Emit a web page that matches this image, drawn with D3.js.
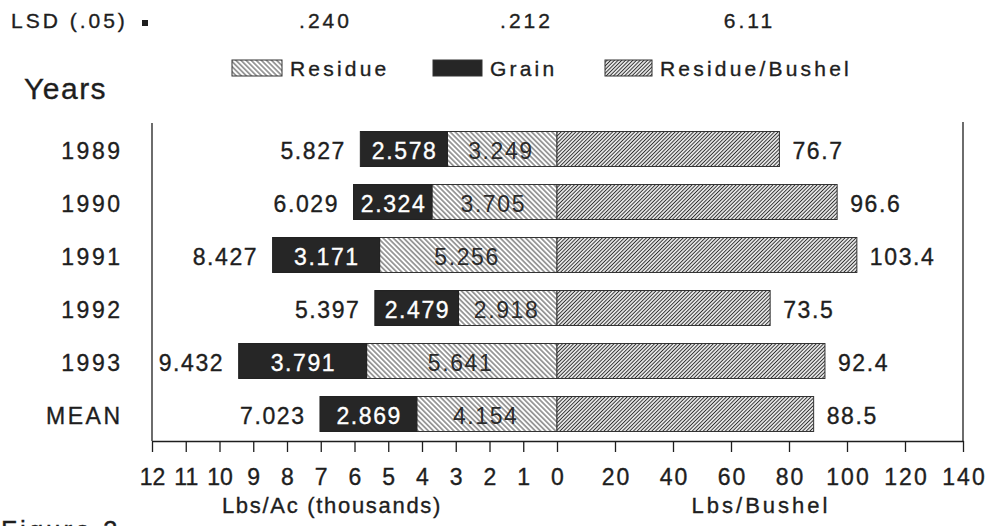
<!DOCTYPE html>
<html><head><meta charset="utf-8">
<script src="https://cdn.jsdelivr.net/npm/d3@7"></script>
<style>
html,body{margin:0;padding:0;background:#fff;}
svg{display:block;font-family:"Liberation Sans",Arial,Helvetica,sans-serif;}
svg text{stroke-width:0.35px;}
</style></head><body>
<svg id="c" width="993" height="526"></svg>
<script>
// ---- data ----
const years = ["1989", "1990", "1991", "1992", "1993", "MEAN"];
const grain = [2.578, 2.324, 3.171, 2.479, 3.791, 2.869];
const residue = [3.249, 3.705, 5.256, 2.918, 5.641, 4.154];
const total = [5.827, 6.029, 8.427, 5.397, 9.432, 7.023];
const perBushel = [76.7, 96.6, 103.4, 73.5, 92.4, 88.5];
const lsdLabels = [".240", ".212", "6.11"];
const leftTicks = [0,1,2,3,4,5,6,7,8,9,10,11,12];
const rightTicks = [20,40,60,80,100,120,140];
const legendLabels = ["Residue", "Grain", "Residue/Bushel"];

const svg = d3.select("#c");
const ink = "#1e1e1e";

// patterns
const defs = svg.append("defs");
function hatch(id, size, angle, sw, col) {
  const p = defs.append("pattern").attr("id", id)
    .attr("patternUnits", "userSpaceOnUse")
    .attr("width", size).attr("height", size)
    .attr("patternTransform", `rotate(${angle})`);
  p.append("rect").attr("width", size).attr("height", size).attr("fill", "#fff");
  p.append("line").attr("x1", size/2).attr("x2", size/2).attr("y1", 0).attr("y2", size)
    .attr("stroke", col).attr("stroke-width", sw);
}
hatch("resHatch", 3.6, -45, 1.0, "#444");
hatch("rbHatch", 2.6, 45, 1.1, "#2e2e2e");
const fills = {res: "url(#resHatch)", grain: "#262626", rb: "url(#rbHatch)"};

// scales
const xL = d3.scaleLinear().domain([0, 12]).range([557, 152]);
const xR = d3.scaleLinear().domain([0, 140]).range([557, 963]);
const y = d3.scaleBand().domain(years).range([122.5, 440.5]).paddingInner(0.34).paddingOuter(0.17);
const axisY = 441;

// frame
svg.append("line").attr("x1", xL(12)).attr("x2", xL(12)).attr("y1", 123).attr("y2", axisY)
  .attr("stroke", ink).attr("stroke-width", 1.3);
svg.append("line").attr("x1", xR(140)).attr("x2", xR(140)).attr("y1", 122).attr("y2", axisY)
  .attr("stroke", ink).attr("stroke-width", 1.3);

// axes
const gL = svg.append("g").attr("transform", `translate(0,${axisY})`)
  .call(d3.axisBottom(xL).tickValues(leftTicks).tickSize(11).tickSizeOuter(0).tickFormat(d3.format("d")));
const gR = svg.append("g").attr("transform", `translate(0,${axisY})`)
  .call(d3.axisBottom(xR).tickValues(rightTicks).tickSize(11).tickSizeOuter(0).tickFormat(d3.format("d")));
[gL, gR].forEach(g => {
  g.select(".domain").attr("stroke", ink).attr("stroke-width", 1.3);
  g.selectAll(".tick line").attr("stroke", ink).attr("stroke-width", 1.3);
  g.selectAll(".tick text").attr("y", 44).attr("dy", 0)
    .attr("font-size", 23).attr("fill", ink).attr("stroke", ink)
    .attr("font-family", "Liberation Sans, Arial, sans-serif");
});
gR.selectAll(".tick text").attr("letter-spacing", 2).attr("dx", 1);

// axis titles
svg.append("text").attr("x", 332).attr("y", 513)
  .attr("text-anchor", "middle").attr("font-size", 22).attr("letter-spacing", 1.7).attr("fill", ink).attr("stroke", ink)
  .text("Lbs/Ac (thousands)");
svg.append("text").attr("x", 761).attr("y", 513)
  .attr("text-anchor", "middle").attr("font-size", 22).attr("letter-spacing", 3).attr("fill", ink).attr("stroke", ink)
  .text("Lbs/Bushel");

// bars
const rows = years.map((yr, i) => ({yr, g: grain[i], r: residue[i], t: total[i], b: perBushel[i]}));
const bh = y.bandwidth();
const row = svg.append("g").selectAll("g").data(rows).join("g");
row.append("rect").attr("x", d => xL(d.r)).attr("y", d => y(d.yr))
  .attr("width", d => xL(0) - xL(d.r)).attr("height", bh)
  .attr("fill", fills.res).attr("stroke", "#333").attr("stroke-width", 1);
row.append("rect").attr("x", d => xL(d.t)).attr("y", d => y(d.yr))
  .attr("width", d => xL(d.r) - xL(d.t)).attr("height", bh)
  .attr("fill", fills.grain).attr("stroke", "#222").attr("stroke-width", 1);
row.append("rect").attr("x", xR(0)).attr("y", d => y(d.yr))
  .attr("width", d => xR(d.b) - xR(0)).attr("height", bh)
  .attr("fill", fills.rb).attr("stroke", "#333").attr("stroke-width", 1);

const fs = 23, ls = 1.6;
const base = d => y(d.yr) + bh / 2 + 9.5;
// year labels
row.append("text").attr("x", 120 + 2.5).attr("y", base).attr("text-anchor", "end")
  .attr("font-size", fs).attr("letter-spacing", 2.5).attr("fill", ink).attr("stroke", ink).text(d => d.yr);
// totals
row.append("text").attr("x", d => xL(d.t) - 16 + ls).attr("y", base).attr("text-anchor", "end")
  .attr("font-size", fs).attr("letter-spacing", ls).attr("fill", ink).attr("stroke", ink).text(d => d3.format(".3f")(d.t));
// grain
row.append("text").attr("x", d => (xL(d.t) + xL(d.r)) / 2 + ls / 2).attr("y", base).attr("text-anchor", "middle")
  .attr("font-size", fs).attr("letter-spacing", ls).attr("fill", "#fff").attr("stroke", "#fff").text(d => d3.format(".3f")(d.g));
// residue
row.append("text").attr("x", d => (xL(d.r) + xL(0)) / 2 - 2 + ls / 2).attr("y", base).attr("text-anchor", "middle")
  .attr("font-size", fs).attr("letter-spacing", ls).attr("fill", "#2a2a2a").text(d => d3.format(".3f")(d.r));
// per bushel
row.append("text").attr("x", d => xR(d.b) + 13).attr("y", base).attr("text-anchor", "start")
  .attr("font-size", fs).attr("letter-spacing", ls).attr("fill", ink).attr("stroke", ink).text(d => d3.format(".1f")(d.b));

// LSD line
svg.append("text").attr("x", 11).attr("y", 28).attr("font-size", 21).attr("letter-spacing", 3)
  .attr("fill", ink).attr("stroke", ink).text("LSD (.05)");
svg.append("rect").attr("x", 142).attr("y", 20).attr("width", 6).attr("height", 6).attr("fill", ink);
const lsdX = [324, 525, 748];
svg.selectAll("text.lsd").data(lsdLabels).join("text").attr("class", "lsd")
  .attr("x", (d, i) => lsdX[i] + 1.5).attr("y", 28).attr("text-anchor", "middle")
  .attr("font-size", 21).attr("letter-spacing", 3).attr("fill", ink).attr("stroke", ink).text(d => d);

// legend
const legX = [232, 433, 605];
const legW = [50, 49, 47];
const legFill = [fills.res, fills.grain, fills.rb];
const leg = svg.append("g").selectAll("g").data(legendLabels).join("g");
leg.append("rect").attr("x", (d, i) => legX[i]).attr("y", 60).attr("width", (d, i) => legW[i]).attr("height", 16)
  .attr("fill", (d, i) => legFill[i]).attr("stroke", "#333").attr("stroke-width", 1);
leg.append("text").attr("x", (d, i) => legX[i] + legW[i] + 8).attr("y", 76)
  .attr("font-size", 21).attr("letter-spacing", 3.2).attr("fill", ink).attr("stroke", ink).text(d => d);

// Years title
svg.append("text").attr("x", 24).attr("y", 99).attr("font-size", 30).attr("letter-spacing", 1.5)
  .attr("fill", ink).attr("stroke", ink).text("Years");

// Figure caption (cut at bottom edge, as in the reference)
svg.append("text").attr("x", 1).attr("y", 539).attr("font-size", 26).attr("letter-spacing", 3)
  .attr("fill", ink).attr("stroke", ink).text("Figure 2");
</script>
</body></html>
